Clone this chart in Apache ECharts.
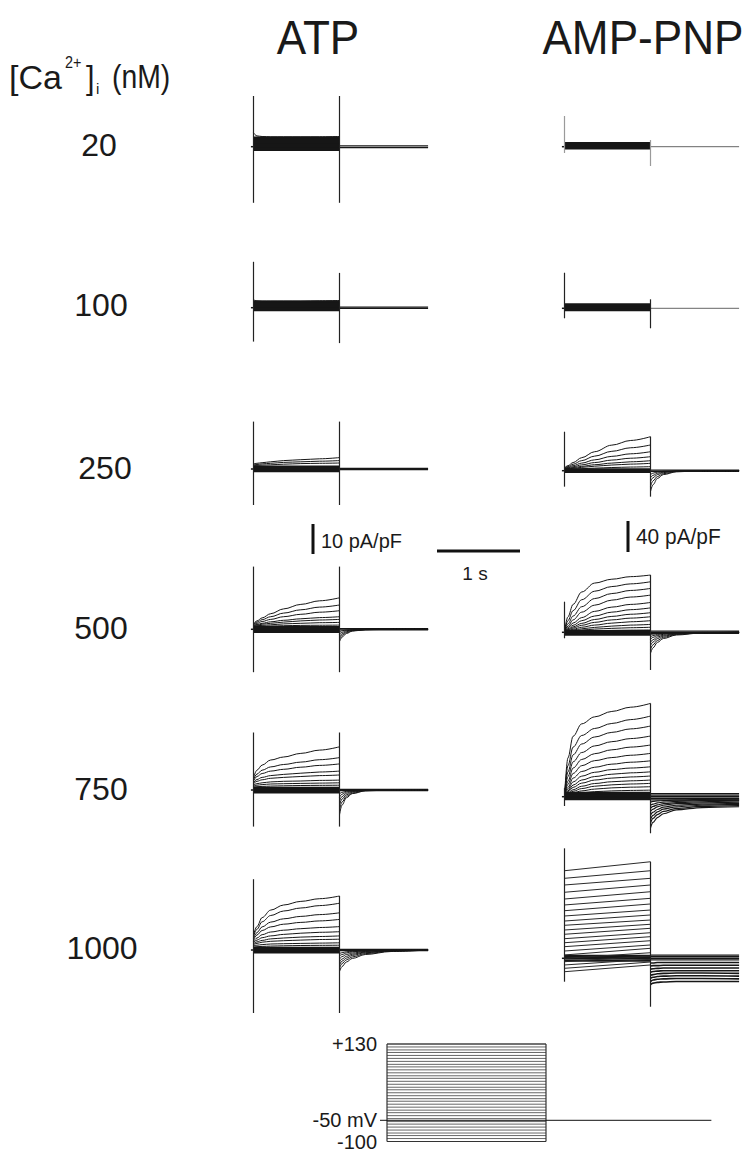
<!DOCTYPE html>
<html><head><meta charset="utf-8">
<script src="https://cdn.jsdelivr.net/npm/echarts@6/dist/echarts.min.js"></script>
<style>html,body{margin:0;padding:0;background:#fff}#c{width:750px;height:1155px}</style>
</head><body><div id="c"></div>
<script>
// ---------- labels ----------
const conditions = ['ATP', 'AMP-PNP'];
const caLevels = ['20', '100', '250', '500', '750', '1000'];

// ---------- sample times (s) ----------
const T_STEP = [0, 0.04, 0.1, 0.2, 0.35, 0.55, 0.77, 1.0];
const T_TAIL = [1.0, 1.03, 1.08, 1.15, 1.3, 1.6, 2.03];
const T_LIN = [0, 1.0];
const T_START = -0.03, T_END = 2.03;

// ---------- ATP currents (pA/pF) ----------
const atp20Step = [[4.6, 3.6, 3.4, 3.3, 3.3, 3.3, 3.3, 3.4]];
const atp20Band = [3.0, 2.4, 1.8, 1.2, 0.6, 0.0, -0.6, -1.0];
const atp20Tail = [];
const atp20Post = [0.3, -0.3];
const atp20Cap = [[16.9, -18.7], [16.9, -18.7]];

const atp100Step = [[2.6, 2.3, 2.2, 2.2, 2.2, 2.2, 2.3, 2.4]];
const atp100Band = [2.0, 1.4, 0.8, 0.2, -0.4, -0.8];
const atp100Tail = [];
const atp100Post = [0.2, -0.2];
const atp100Cap = [[15.3, -11.3], [11.6, -11.8]];

const atp250Step = [
  [1.7, 1.9, 2.1, 2.4, 2.8, 3.1, 3.4, 3.8],
  [1.4, 1.5, 1.7, 1.9, 2.2, 2.4, 2.6, 2.8],
  [1.1, 1.2, 1.3, 1.4, 1.6, 1.8, 1.9, 2.0]
];
const atp250Band = [0.8, 0.3, -0.2, -0.7];
const atp250Tail = [];
const atp250Post = [0.2, -0.2];
const atp250Cap = [[15.8, -12], [15.8, -12]];

const atp500Step = [
  [1.8, 2.8, 3.8, 5.2, 6.8, 8.3, 9.5, 10.5],
  [1.6, 2.4, 3.2, 4.2, 5.4, 6.5, 7.4, 8.1],
  [1.5, 2.0, 2.6, 3.3, 4.2, 5.0, 5.7, 6.2],
  [1.3, 1.6, 2.0, 2.5, 3.0, 3.5, 3.9, 4.2],
  [1.2, 1.4, 1.7, 2.0, 2.4, 2.8, 3.1, 3.3],
  [1.0, 1.2, 1.3, 1.5, 1.8, 2.0, 2.2, 2.3],
  [0.8, 0.9, 1.0, 1.1, 1.2, 1.3, 1.35, 1.4]
];
const atp500Band = [0.7, 0.2, -0.3, -0.8];
const atp500Tail = [
  [-4.1, -2.6, -1.4, -0.6, -0.15, 0, 0],
  [-3.2, -2.0, -1.1, -0.5, -0.1, 0, 0],
  [-2.4, -1.5, -0.8, -0.35, -0.1, 0, 0],
  [-1.6, -1.0, -0.5, -0.2, 0, 0, 0],
  [-0.9, -0.5, -0.25, -0.1, 0, 0, 0]
];
const atp500Post = [0.2, -0.2];
const atp500Cap = [[20.9, -14.3], [20.9, -14.3]];

const atp750Step = [
  [4.0, 6.6, 8.3, 10.0, 11.0, 12.2, 13.3, 14.4],
  [3.5, 5.3, 6.6, 7.7, 8.5, 9.3, 10.1, 10.8],
  [3.0, 4.5, 5.5, 6.3, 6.9, 7.6, 8.2, 8.7],
  [2.5, 3.5, 4.2, 4.8, 5.2, 5.6, 6.0, 6.3],
  [2.1, 2.9, 3.4, 3.9, 4.2, 4.5, 4.8, 5.0],
  [1.7, 2.1, 2.4, 2.7, 2.9, 3.0, 3.2, 3.3],
  [1.3, 1.6, 1.8, 2.0, 2.1, 2.2, 2.3, 2.4],
  [1.0, 1.1, 1.2, 1.3, 1.4, 1.5, 1.55, 1.6]
];
const atp750Band = [0.7, 0.2, -0.3, -0.8];
const atp750Tail = [
  [-8.3, -5.0, -2.6, -1.2, -0.3, 0, 0],
  [-6.5, -4.0, -2.1, -1.0, -0.2, 0, 0],
  [-5.0, -3.0, -1.6, -0.7, -0.1, 0, 0],
  [-3.6, -2.2, -1.1, -0.5, -0.1, 0, 0],
  [-2.4, -1.4, -0.7, -0.3, 0, 0, 0],
  [-1.3, -0.8, -0.4, -0.1, 0, 0, 0]
];
const atp750Post = [0.2, -0.2];
const atp750Cap = [[19.2, -12.2], [19.2, -12.2]];

const atp1000Step = [
  [5.0, 7.8, 10.8, 13.3, 15.0, 16.2, 17.1, 18.0],
  [4.5, 6.9, 9.4, 11.5, 13.0, 14.0, 14.8, 15.6],
  [3.9, 5.8, 7.7, 9.3, 10.4, 11.2, 11.8, 12.4],
  [3.4, 5.0, 6.5, 7.7, 8.6, 9.2, 9.7, 10.2],
  [2.9, 4.0, 5.1, 6.0, 6.6, 7.1, 7.5, 7.8],
  [2.5, 3.3, 4.1, 4.7, 5.2, 5.6, 5.9, 6.1],
  [2.1, 2.7, 3.2, 3.7, 4.0, 4.3, 4.5, 4.7],
  [1.8, 2.2, 2.6, 2.9, 3.1, 3.3, 3.5, 3.6],
  [1.4, 1.6, 1.8, 2.0, 2.1, 2.2, 2.3, 2.4],
  [1.0, 1.1, 1.2, 1.3, 1.4, 1.5, 1.55, 1.6]
];
const atp1000Band = [0.7, 0.2, -0.3, -0.8];
const atp1000Tail = [
  [-7.2, -5.5, -4.0, -2.8, -1.5, -0.5, 0],
  [-6.0, -4.5, -3.3, -2.3, -1.2, -0.4, 0],
  [-5.0, -3.7, -2.7, -1.8, -0.9, -0.3, 0],
  [-4.0, -3.0, -2.1, -1.4, -0.7, -0.2, 0],
  [-3.0, -2.2, -1.5, -1.0, -0.5, -0.15, 0],
  [-2.0, -1.5, -1.0, -0.6, -0.3, -0.1, 0],
  [-1.2, -0.9, -0.6, -0.4, -0.2, 0, 0]
];
const atp1000Post = [0.2, -0.2];
const atp1000Cap = [[23.6, -21], [18.0, -21]];

// ---------- AMP-PNP currents (pA/pF) ----------
const amp20Step = [];
const amp20Band = [4.5, 3.2, 1.9, 0.6, -0.7, -2.0];
const amp20Tail = [];
const amp20Post = [0];
const amp20Cap = [[39.6, -8.1], [8.6, -24.9]];

const amp100Step = [];
const amp100Band = [5.0, 3.5, 2.0, 0.5, -1.0, -2.2];
const amp100Tail = [];
const amp100Post = [0];
const amp100Cap = [[45.9, -12.9], [11.6, -25.8]];

const amp250Step = [
  [3.5, 6.5, 10.5, 16.8, 24.5, 33.0, 39.0, 43.9],
  [3.0, 5.3, 8.3, 13.0, 18.8, 25.0, 29.6, 33.2],
  [2.6, 4.3, 6.5, 9.8, 14.0, 18.5, 21.8, 24.5],
  [2.2, 3.5, 5.1, 7.5, 10.5, 13.7, 16.1, 18.1],
  [1.9, 2.8, 4.0, 5.6, 7.7, 9.8, 11.5, 12.9],
  [1.6, 2.3, 3.1, 4.3, 5.8, 7.3, 8.5, 9.5],
  [1.3, 1.6, 2.0, 2.6, 3.3, 4.1, 4.7, 5.2]
];
const amp250Band = [1.5, 0, -1.5];
const amp250Tail = [
  [-27, -18, -10, -5, -1.5, 0, 0],
  [-20, -13, -7.5, -3.8, -1, 0, 0],
  [-14, -9, -5, -2.5, -0.6, 0, 0],
  [-9, -6, -3.3, -1.6, -0.4, 0, 0],
  [-5, -3.2, -1.8, -0.8, -0.2, 0, 0]
];
const amp250Post = [0.8, -0.8];
const amp250Cap = [[50.3, -20.6], [43.9, -33.5]];

const amp500Step = [
  [1, 20, 36, 52, 63.5, 68.5, 71.8, 73.9],
  [1, 15, 28, 42, 53, 59, 62.5, 65.2],
  [1, 11, 21, 33, 43.5, 50, 54, 56.6],
  [1, 8, 16, 26, 35, 41.5, 45.5, 48],
  [1, 6, 12, 19, 27, 32.5, 36, 38.5],
  [1, 4.5, 9, 15, 21, 26, 29.2, 31.5],
  [1, 3.5, 7, 11.5, 16.5, 20.5, 23.3, 25.3],
  [1, 2.8, 5.5, 9, 12.8, 16, 18.3, 20.1],
  [1, 2.2, 4, 6.5, 9.3, 11.8, 13.6, 15],
  [1, 1.7, 2.9, 4.5, 6.3, 8, 9.3, 10.2],
  [1, 1.4, 2.1, 3, 4.1, 5.1, 5.9, 6.5],
  [0.8, 1, 1.3, 1.7, 2.1, 2.5, 2.8, 3.0]
];
const amp500Band = [1.5, 0, -1.5, -3];
const amp500Tail = [
  [-27, -20, -13, -8, -3.5, -0.8, 0],
  [-22, -16, -10.5, -6.5, -2.8, -0.6, 0],
  [-17, -12.5, -8, -5, -2.2, -0.5, 0],
  [-13, -9.5, -6, -3.8, -1.6, -0.4, 0],
  [-9, -6.5, -4.2, -2.6, -1.1, -0.3, 0],
  [-6, -4.3, -2.8, -1.7, -0.7, -0.2, 0],
  [-3.5, -2.5, -1.6, -1, -0.4, -0.1, 0]
];
const amp500Post = [1.5, 0, -1.5];
const amp500Cap = [[39.5, -7.7], [73.9, -48.6]];

const amp750Step = [
  [1, 50, 78, 94, 103, 110, 115.5, 120.4],
  [1, 40, 64, 79, 88, 94.5, 99.5, 104.1],
  [1, 32, 54, 68, 77, 83, 87.5, 91.2],
  [1, 26, 45, 57, 65.5, 71, 75, 78.3],
  [1, 20, 37, 48, 55.5, 60.5, 64, 66.7],
  [1, 16, 30, 40, 46.5, 50.5, 53.5, 55.9],
  [1, 12, 24, 32.5, 38, 42, 44.5, 46.3],
  [1, 9.5, 19, 26.5, 31.5, 35, 37, 38.6],
  [1, 7.5, 15, 21.5, 26, 29, 30.8, 32.1],
  [1, 6, 12, 17.5, 21.5, 24, 25.5, 26.7],
  [1, 4.5, 9, 13.5, 17, 19.3, 20.5, 21.5],
  [1, 3.5, 7, 10.5, 13.5, 15.3, 16.4, 17.2],
  [1, 2.8, 5, 7.5, 9.8, 11.4, 12.3, 12.9],
  [1, 2, 3.5, 5, 6.5, 7.5, 8.1, 8.5],
  [0.5, 1.2, 2, 2.8, 3.5, 4, 4.3, 4.5]
];
const amp750Band = [5, 3, 1, -1, -3];
const amp750Tail = [
  [-40, -33, -27, -22, -17, -14, -13],
  [-34, -28, -23, -19, -15, -12.5, -11.5],
  [-29, -24, -19.5, -16, -13, -11, -10],
  [-24, -20, -16.5, -13.5, -11, -9.5, -8.5],
  [-19, -16, -13, -11, -9, -8, -7],
  [-15, -12.5, -10.5, -9, -7.5, -6.5, -5.5],
  [-11, -9.5, -8, -7, -6, -5, -4.5],
  [-7, -6, -5.5, -5, -4.5, -3.5, -3]
];
const amp750Post = [4, 2, 0, -2, -4];
const amp750Cap = [[11, -12], [120.4, -47.2]];

const amp1000Step = [
  [113, 124.6], [103.2, 113], [94.6, 103.2], [85.2, 94.6], [76.5, 85.9],
  [68.8, 77.4], [61.4, 70.1], [54.6, 62.3], [48.1, 55.9], [42.6, 49.4],
  [36.5, 43.9], [31, 38.7], [25.3, 33], [20.1, 27.9], [15, 22.7],
  [9.4, 17.2], [4.3, 12.9], [0, 7.2], [-4.4, 3], [-8.6, -1.3],
  [-12.9, -4.8], [-17.3, -8.6]
];
const amp1000Band = [3, 0, -3];
const amp1000Tail = [
  [-34, -32, -31, -30.5, -30, -30, -30],
  [-30, -28, -27, -26.5, -26, -26, -26.5],
  [-26, -24.5, -23.5, -23, -22.5, -22.5, -23],
  [-22, -21, -20, -19.5, -19, -19, -19.5],
  [-18, -17, -16.5, -16, -16, -16, -16],
  [-14, -13.5, -13, -12.5, -12.5, -12.5, -12.5],
  [-10, -9.5, -9.5, -9, -9, -9, -9],
  [-6, -6, -5.5, -5.5, -5.5, -5.5, -5.5]
];
const amp1000Post = [4, 2, 0, -2];
const amp1000Cap = [[141.9, -30.2], [124.6, -62.5]];

// ---------- voltage protocol (mV) ----------
const protoLevels = [-100, -93, -86, -80, -73, -66, -59, -53, -46, -39, -32, -26, -19, -12, -5, 1, 8, 15,
  22, 28, 35, 42, 49, 55, 62, 69, 76, 82, 89, 96, 103, 110, 116, 123, 130];
const protoHold = -50;
const protoTicks = { '-100': '-100', '-50': '-50 mV', '130': '+130' };

// ---------- scale bars ----------
const scaleAtp = 10;   // pA/pF
const scaleAmp = 40;   // pA/pF
const scaleTime = 1;   // s

// ---------- layout (pixels) ----------
const PX_PER_S = 86;
const ATP_T0_X = 253.5, AMP_T0_X = 564.5;
const ATP_BASE_Y = [146.7, 307.7, 469, 629.3, 790, 950];
const AMP_BASE_Y = [146.7, 308.3, 470.7, 632.3, 796.7, 958.3];
const ATP_PX_PER_UNIT = 3.0, AMP_PX_PER_UNIT = 0.775;

const atpPanels = [
  [atp20Step, atp20Band, atp20Tail, atp20Post, atp20Cap],
  [atp100Step, atp100Band, atp100Tail, atp100Post, atp100Cap],
  [atp250Step, atp250Band, atp250Tail, atp250Post, atp250Cap],
  [atp500Step, atp500Band, atp500Tail, atp500Post, atp500Cap],
  [atp750Step, atp750Band, atp750Tail, atp750Post, atp750Cap],
  [atp1000Step, atp1000Band, atp1000Tail, atp1000Post, atp1000Cap]
];
const ampPanels = [
  [amp20Step, amp20Band, amp20Tail, amp20Post, amp20Cap],
  [amp100Step, amp100Band, amp100Tail, amp100Post, amp100Cap],
  [amp250Step, amp250Band, amp250Tail, amp250Post, amp250Cap],
  [amp500Step, amp500Band, amp500Tail, amp500Post, amp500Cap],
  [amp750Step, amp750Band, amp750Tail, amp750Post, amp750Cap],
  [amp1000Step, amp1000Band, amp1000Tail, amp1000Post, amp1000Cap]
];

const grids = [], xAxes = [], yAxes = [], series = [];
function addGrid(left, top, width, height, xmin, xmax, ymin, ymax) {
  grids.push({ left, top, width, height, containLabel: false });
  const i = grids.length - 1;
  xAxes.push({ type: 'value', gridIndex: i, min: xmin, max: xmax, show: false });
  yAxes.push({ type: 'value', gridIndex: i, min: ymin, max: ymax, show: false });
  return i;
}
function line(gi, data, color, width, smooth) {
  series.push({
    type: 'line', xAxisIndex: gi, yAxisIndex: gi, data, symbol: 'none', showSymbol: false,
    silent: true, clip: false, animation: false, smooth: smooth ? 0.35 : false,
    smoothMonotone: smooth ? 'x' : undefined,
    lineStyle: { color, width }, z: 2
  });
}
function addPanel(gi, p, opts) {
  const [step, band, tail, post, cap] = p;
  const c = '#161616';
  const pc = opts.postColor || c;
  line(gi, [[T_START, 0], [0, 0]], c, 1.5, false);
  band.forEach(v => line(gi, [[0, v], [1, v]], c, opts.bandWidth || 2.4, false));
  const st = opts.stepTimes || T_STEP;
  step.forEach(tr => line(gi, st.map((t, k) => [t, tr[k]]), opts.stepColor || c, 1, !opts.stepTimes));
  post.forEach(v => line(gi, [[1, v], [T_END, v]], pc, opts.postWidth || 1.3, false));
  tail.forEach(tr => line(gi, T_TAIL.map((t, k) => [t, tr[k]]), c, opts.tailWidth || 1, true));
  const cc = opts.capColor || '#222';
  line(gi, [[0, cap[0][0]], [0, cap[0][1]]], cc, 1.2, false);
  line(gi, [[1, cap[1][0]], [1, cap[1][1]]], cc, 1.2, false);
}

// ATP panels
atpPanels.forEach((p, r) => {
  const base = ATP_BASE_Y[r];
  const gi = addGrid(ATP_T0_X - 0.1 * PX_PER_S, base - 25 * ATP_PX_PER_UNIT, 2.2 * PX_PER_S, 50 * ATP_PX_PER_UNIT,
    -0.1, 2.1, -25, 25);
  addPanel(gi, p, {});
});
// AMP-PNP panels
ampPanels.forEach((p, r) => {
  const base = AMP_BASE_Y[r];
  const gi = addGrid(AMP_T0_X - 0.1 * PX_PER_S, base - 150 * AMP_PX_PER_UNIT, 2.2 * PX_PER_S, 220 * AMP_PX_PER_UNIT,
    -0.1, 2.1, -70, 150);
  const opts = {};
  if (r < 2) { opts.postColor = '#666'; opts.postWidth = 1; }
  if (r === 0) opts.capColor = '#9a9a9a';
  if (r === 5) { opts.stepTimes = T_LIN; opts.stepColor = '#2a2a2a'; opts.tailWidth = 1.6; }
  if (r === 4) opts.tailWidth = 1.2;
  addPanel(gi, p, opts);
});

// Voltage protocol grid
const PROTO_PX_PER_S = 159;
const protoGrid = (function () {
  grids.push({ left: 387 - 0.05 * PROTO_PX_PER_S, top: 1044, width: 2.1 * PROTO_PX_PER_S, height: 97.5 });
  const i = grids.length - 1;
  xAxes.push({ type: 'value', gridIndex: i, min: -0.05, max: 2.05, show: false });
  yAxes.push({
    type: 'value', gridIndex: i, min: -100, max: 130, interval: 10,
    axisLine: { show: false }, axisTick: { show: false }, splitLine: { show: false },
    axisLabel: {
      show: true, margin: 2, fontSize: 20, lineHeight: 18, color: '#1a1a1a',
      fontFamily: 'Liberation Sans, Arial, sans-serif',
      formatter: v => protoTicks[String(v)] || '', showMinLabel: true, showMaxLabel: true, hideOverlap: false
    }
  });
  return i;
})();
protoLevels.forEach(v => line(protoGrid, [[0, v], [1, v]], '#555', 0.9, false));
line(protoGrid, [[0, -100], [0, 130]], '#333', 1.2, false);
line(protoGrid, [[1, -100], [1, 130]], '#333', 1.2, false);
line(protoGrid, [[0, 130], [1, 130]], '#333', 1.2, false);
line(protoGrid, [[0, -100], [1, -100]], '#333', 1.2, false);
line(protoGrid, [[-0.044, protoHold], [2.04, protoHold]], '#111', 1, false);

// Scale bars
const gA = addGrid(303, 524, 20, 30, -1, 1, 0, scaleAtp);
line(gA, [[0, 0], [0, scaleAtp]], '#111', 3, false);
const gB = addGrid(618, 521, 20, 31, -1, 1, 0, scaleAmp);
line(gB, [[0, 0], [0, scaleAmp]], '#111', 3, false);
const gT = addGrid(437, 541, 83, 20, 0, scaleTime, -1, 1);
line(gT, [[0, 0], [scaleTime, 0]], '#111', 3, false);

// Text
const FF = 'Liberation Sans, Arial, Helvetica, sans-serif';
function txt(text, x, y, size, align, extra) {
  return Object.assign({
    type: 'text', x, y, silent: true,
    style: { text, fontSize: size, fontFamily: FF, fill: '#1a1a1a', align, verticalAlign: 'middle',
             textAlign: align, textVerticalAlign: 'middle' }
  }, extra || {});
}
const graphics = [
  txt(conditions[0], 318, 37, 48, 'center', { scaleX: 0.92 }),
  txt(conditions[1], 643, 37, 48, 'center', { scaleX: 0.92 }),
  txt('[Ca', 9, 77, 34, 'left'),
  txt('2+', 65, 62, 16, 'left', { scaleX: 0.9 }),
  txt(']', 86, 77, 34, 'left', { scaleX: 0.9 }),
  txt('i', 96, 88, 15, 'left'),
  txt('(nM)', 112, 77, 33, 'left', { scaleX: 0.86 }),
  txt(caLevels[0], 99, 145, 32, 'center'),
  txt(caLevels[1], 101, 305, 32, 'center'),
  txt(caLevels[2], 105, 468, 32, 'center'),
  txt(caLevels[3], 101, 628, 32, 'center'),
  txt(caLevels[4], 101, 789, 32, 'center'),
  txt(caLevels[5], 102, 948, 32, 'center'),
  txt(scaleAtp + ' pA/pF', 321, 540, 21, 'left', { scaleX: 0.95 }),
  txt(scaleAmp + ' pA/pF', 636, 537, 22, 'left', { scaleX: 0.95 }),
  txt(scaleTime + ' s', 475, 573, 19, 'center')
];

const chart = echarts.init(document.getElementById('c'), null, { renderer: 'svg' });
chart.setOption({
  animation: false,
  backgroundColor: '#fff',
  grid: grids, xAxis: xAxes, yAxis: yAxes, series,
  graphic: graphics
});
</script></body></html>
